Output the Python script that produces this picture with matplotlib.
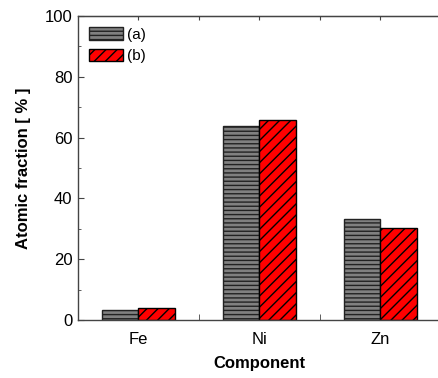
import matplotlib
matplotlib.use("Agg")
import matplotlib.pyplot as plt
import numpy as np
from matplotlib.ticker import MultipleLocator, FixedLocator

plt.rcParams["font.family"] = ["Liberation Sans", "DejaVu Sans"]
plt.rcParams["hatch.linewidth"] = 1.0

components = ["Fe", "Ni", "Zn"]
series_a = [3.3, 63.8, 33.1]
series_b = [3.8, 65.9, 30.3]
labels = ["(a)", "(b)"]

x = np.arange(1, len(components) + 1)
w = 0.3

fig = plt.figure(figsize=(4.39, 3.78), dpi=100)
ax = fig.add_axes([78 / 439, 58 / 378, 363 / 439, 304 / 378])

ax.bar(x - w / 2, series_a, w, color="#808080", edgecolor="#222222", hatch="----",
       linewidth=1.0, label=labels[0])
ax.bar(x + w / 2, series_b, w, color="#ff0000", edgecolor="#000000", hatch="///",
       linewidth=1.0, label=labels[1])

ax.set_xlim(0.5, 3.5)
ax.set_ylim(0, 100)
ax.set_xticks(x)
ax.set_xticklabels(components)
ax.xaxis.set_minor_locator(FixedLocator([1.5, 2.5]))
ax.yaxis.set_major_locator(MultipleLocator(20))
ax.yaxis.set_minor_locator(MultipleLocator(10))

for s in ax.spines.values():
    s.set_color("#444444")
    s.set_linewidth(1.0)

ax.tick_params(axis="x", which="major", length=0, labelsize=12, pad=9)
ax.tick_params(axis="x", which="minor", direction="in", length=4, color="#444444")
ax.tick_params(axis="y", which="both", direction="in", color="#444444", labelsize=12, pad=4)
ax.tick_params(axis="y", which="major", length=4)
ax.tick_params(axis="y", which="minor", length=2.5)

# top spine ticks every half category
top = ax.secondary_xaxis("top")
top.set_xticks([1, 1.5, 2, 2.5, 3])
top.tick_params(direction="in", length=3, color="#444444", labelsize=0)
top.set_xticklabels([])

ax.set_xlabel("Component", fontsize=12, fontweight="bold", labelpad=6)
ax.set_ylabel("Atomic fraction [ % ]", fontsize=12, fontweight="bold", labelpad=10)

ax.legend(loc="upper left", frameon=False, fontsize=11, handlelength=2.2,
          handleheight=0.85, handletextpad=0.25, borderaxespad=0.3, labelspacing=0.45,
          borderpad=0.45)

fig.savefig("out.png", dpi=100)
